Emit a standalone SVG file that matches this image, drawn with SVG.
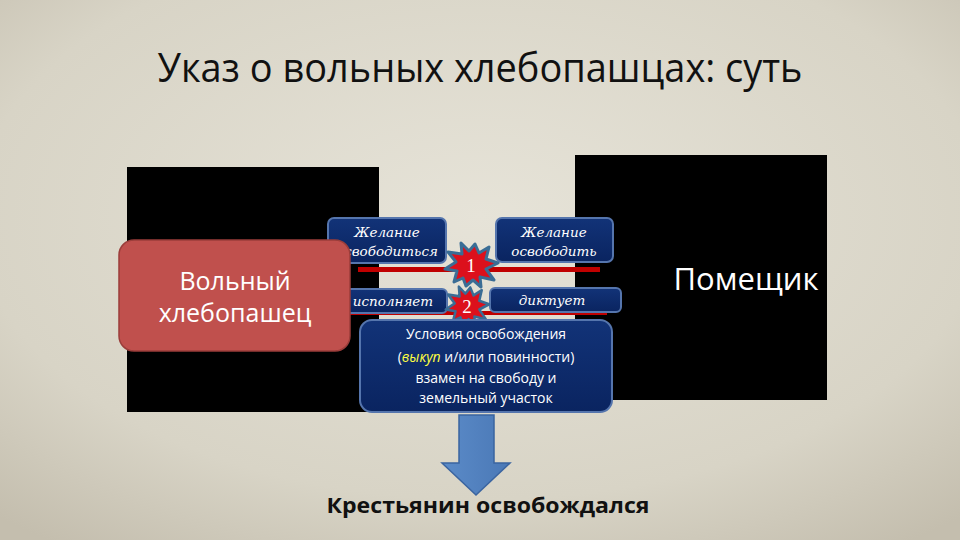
<svg xmlns="http://www.w3.org/2000/svg" width="960" height="540" viewBox="0 0 960 540">
<defs>
<radialGradient id="bg" cx="50%" cy="40%" r="75%">
<stop offset="0" stop-color="#e6e3d8"/>
<stop offset="0.7" stop-color="#d8d4c6"/>
<stop offset="1" stop-color="#c4beae"/>
</radialGradient>
<linearGradient id="navy" x1="0" y1="0" x2="0" y2="1">
<stop offset="0" stop-color="#123378"/>
<stop offset="1" stop-color="#0a2460"/>
</linearGradient>
<linearGradient id="arrowg" x1="0" y1="0" x2="1" y2="0">
<stop offset="0" stop-color="#5b8bc8"/>
<stop offset="1" stop-color="#4a78b6"/>
</linearGradient>
<polygon id="star" points="27,-2 15,4 23,15 9,12 10,22 2,15 -5,21 -8,13 -17,17 -14,6 -26,4 -15,-3 -23,-13 -9,-11 -10,-22 -2,-14 4,-21 8,-12 18,-18 15,-6"/>
</defs>
<style>
.blk{fill:#000}
.nb{fill:url(#navy);stroke:#5575ad;stroke-width:2}
.it{font-family:"DejaVu Serif","Liberation Serif",serif;font-style:italic;font-size:13.5px;fill:#fff;text-anchor:middle}
.cal{font-family:"Open Sans","Liberation Sans",sans-serif;fill:#fff;text-anchor:middle}
.rl{fill:#c00000}
.st{fill:#dc101c;stroke:#3a6d95;stroke-width:3;stroke-linejoin:round}
.num{font-family:"Liberation Serif",serif;font-size:19px;fill:#fff;text-anchor:middle}
</style>
<rect width="960" height="540" fill="url(#bg)"/>
<text x="480" y="82" font-family="'Open Sans','Liberation Sans',sans-serif" font-size="40" fill="#111" text-anchor="middle" textLength="645" lengthAdjust="spacingAndGlyphs">Указ о вольных хлебопашцах: суть</text>

<g id="left-panel"><rect class="blk" x="127" y="167" width="252" height="245"/></g>
<g id="right-panel"><rect class="blk" x="575" y="155" width="252" height="245"/></g>

<g id="connectors">
<rect class="rl" x="358" y="267" width="242" height="5"/>
<rect class="rl" x="345" y="311" width="262" height="4"/>
</g>

<g id="box-zhelanie1">
<rect class="nb" x="328" y="218" width="118" height="45" rx="6"/>
<text class="it" x="387" y="237">Желание</text>
<text class="it" x="387" y="256">освободиться</text>
</g>
<g id="box-zhelanie2">
<rect class="nb" x="496" y="218" width="117" height="44" rx="6"/>
<text class="it" x="554" y="237">Желание</text>
<text class="it" x="554" y="256">освободить</text>
</g>
<g id="box-ispolnyaet">
<rect class="nb" x="335" y="289" width="112" height="24" rx="5"/>
<text class="it" x="393" y="306">исполняет</text>
</g>
<g id="box-diktuet">
<rect class="nb" x="490" y="288" width="131" height="24" rx="5"/>
<text class="it" x="552" y="305">диктует</text>
</g>

<g id="star1">
<use href="#star" class="st" transform="translate(471,265)"/>
<text class="num" x="471" y="272">1</text>
</g>
<g id="star2">
<use href="#star" class="st" transform="translate(467,306) scale(0.82,0.88)"/>
<text class="num" x="467" y="313">2</text>
</g>

<g id="volny">
<rect x="119" y="240" width="231" height="111" rx="15" fill="#c0504d" stroke="#9b3d3a" stroke-width="1.5"/>
<text class="cal" x="235" y="290" font-size="25">Вольный</text>
<text class="cal" x="235" y="322" font-size="25">хлебопашец</text>
</g>

<g id="pomeshchik">
<text class="cal" x="746" y="290" font-size="31">Помещик</text>
</g>

<g id="usloviya">
<rect class="nb" x="360" y="320" width="252" height="92" rx="12"/>
<text class="cal" x="486" y="339" font-size="14">Условия освобождения</text>
<text class="cal" x="486" y="362" font-size="14">(<tspan fill="#ffff40" font-style="italic">выкуп</tspan> и/или повинности)</text>
<text class="cal" x="486" y="383" font-size="14">взамен на свободу и</text>
<text class="cal" x="486" y="403" font-size="14">земельный участок</text>
</g>

<g id="arrow-down">
<polygon points="459,415 494,415 494,463 510,463 476,495 442,463 459,463" fill="url(#arrowg)" stroke="#3a64a0" stroke-width="1.5"/>
</g>

<g id="result">
<text x="488" y="513" font-family="'Open Sans','Liberation Sans',sans-serif" font-weight="bold" font-size="21" fill="#111" text-anchor="middle" textLength="323" lengthAdjust="spacingAndGlyphs">Крестьянин освобождался</text>
</g>
</svg>
